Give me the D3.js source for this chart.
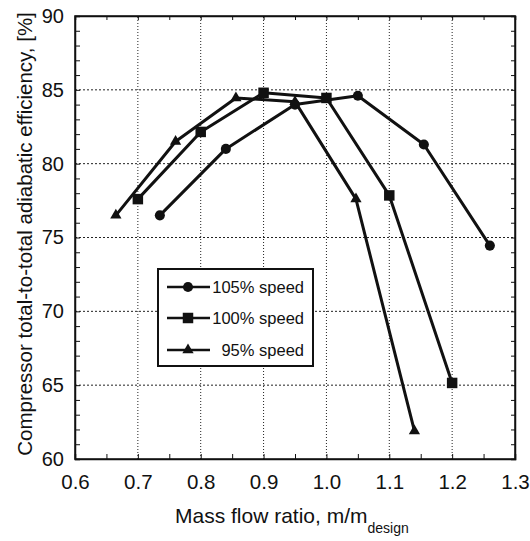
<!DOCTYPE html>
<html>
<head>
<meta charset="utf-8">
<script src="https://cdnjs.cloudflare.com/ajax/libs/d3/7.8.5/d3.min.js"></script>
<style>
  body { margin: 0; background: #fff; }
  text { font-family: "Liberation Sans", Arial, sans-serif; fill: #111; }
</style>
</head>
<body>
<div id="chart"></div>
<script>
var w = 530
var h = 541

// data
var speeds = ["105% speed", "100% speed", "95% speed"];
var markers = ["circle", "square", "triangle"];

var x105 = [0.735, 0.84, 0.95, 1.05, 1.155, 1.26];
var y105 = [76.5, 81.0, 84.0, 84.6, 81.3, 74.45];

var x100 = [0.70, 0.80, 0.90, 1.00, 1.10, 1.20];
var y100 = [77.6, 82.15, 84.8, 84.45, 77.85, 65.15];

var x95 = [0.665, 0.76, 0.856, 0.95, 1.047, 1.14];
var y95 = [76.5, 81.5, 84.45, 84.2, 77.6, 61.9];

var xTicks = [0.6, 0.7, 0.8, 0.9, 1.0, 1.1, 1.2, 1.3];
var yTicks = [60, 65, 70, 75, 80, 85, 90];

var margin = { left: 75, top: 16, right: 15, bottom: 82 };

var xScale = d3.scaleLinear().domain([0.6, 1.3]).range([margin.left, w - margin.right]);
var yScale = d3.scaleLinear().domain([60, 90]).range([h - margin.bottom, margin.top]);

var svg = d3.select("#chart").append("svg")
    .attr("width", w)
    .attr("height", h);

// dotted grid
svg.selectAll("line.gx").data(xTicks.slice(1, -1)).enter()
  .append("line")
    .attr("x1", function(d) { return xScale(d); })
    .attr("x2", function(d) { return xScale(d); })
    .attr("y1", yScale(60))
    .attr("y2", yScale(90))
    .attr("stroke", "#222")
    .attr("stroke-width", 1)
    .attr("stroke-dasharray", "1,2");

svg.selectAll("line.gy").data(yTicks.slice(1, -1)).enter()
  .append("line")
    .attr("y1", function(d) { return yScale(d); })
    .attr("y2", function(d) { return yScale(d); })
    .attr("x1", xScale(0.6))
    .attr("x2", xScale(1.3))
    .attr("stroke", "#222")
    .attr("stroke-width", 1)
    .attr("stroke-dasharray", "2,2");

// axes with inward ticks
var xAxis = svg.append("g")
    .attr("transform", "translate(0," + yScale(60) + ")")
    .call(d3.axisBottom(xScale).tickValues(d3.range(0.6, 1.3001, 0.05)).tickSize(-5).tickPadding(15)
      .tickFormat(function(d) { return Math.round(d * 100) % 10 === 0 ? d3.format(".1f")(d) : ""; }));
xAxis.selectAll("text").style("font-size", "20.5px");

var yAxis = svg.append("g")
    .attr("transform", "translate(" + xScale(0.6) + ",0)")
    .call(d3.axisLeft(yScale).tickValues(d3.range(60, 90.5, 1)).tickSize(-5).tickPadding(11)
      .tickFormat(function(d) { return d % 5 === 0 ? d : ""; }));
yAxis.selectAll("text").style("font-size", "20px");

svg.append("g")
    .attr("transform", "translate(" + xScale(1.3) + ",0)")
    .call(d3.axisRight(yScale).tickValues(d3.range(60, 90.5, 1)).tickSize(-4).tickFormat(""));

svg.append("g")
    .attr("transform", "translate(0," + yScale(90) + ")")
    .call(d3.axisTop(xScale).tickValues(d3.range(0.6, 1.3001, 0.05)).tickSize(-4).tickFormat(""));

svg.selectAll(".domain").attr("stroke", "#111").attr("stroke-width", 1.5);
svg.selectAll(".tick line").attr("stroke", "#111");

// plot frame
svg.append("rect")
    .attr("x", xScale(0.6))
    .attr("y", yScale(90))
    .attr("width", xScale(1.3) - xScale(0.6))
    .attr("height", yScale(60) - yScale(90))
    .attr("fill", "none")
    .attr("stroke", "#111")
    .attr("stroke-width", 1.5);

// series
var series = [
  { xs: x105, ys: y105, m: markers[0] },
  { xs: x100, ys: y100, m: markers[1] },
  { xs: x95, ys: y95, m: markers[2] }
];

var line = d3.line()
    .x(function(d) { return xScale(d[0]); })
    .y(function(d) { return yScale(d[1]); });

function symbolFor(m) {
  if (m === "circle") return d3.symbol().type(d3.symbolCircle).size(80);
  if (m === "square") return d3.symbol().type(d3.symbolSquare).size(110);
  return d3.symbol().type(d3.symbolTriangle).size(55);
}

series.forEach(function(s) {
  var pts = d3.zip(s.xs, s.ys);
  svg.append("path")
      .datum(pts)
      .attr("fill", "none")
      .attr("stroke", "#111")
      .attr("stroke-width", 3)
      .attr("stroke-linejoin", "round")
      .attr("d", line);
  svg.selectAll(null).data(pts).enter()
    .append("path")
      .attr("transform", function(d) { return "translate(" + xScale(d[0]) + "," + yScale(d[1]) + ")"; })
      .attr("d", symbolFor(s.m)())
      .attr("fill", "#111");
});

// legend
var legend = svg.append("g");
legend.append("rect")
    .attr("x", 158)
    .attr("y", 269)
    .attr("width", 155)
    .attr("height", 97)
    .attr("fill", "#fff")
    .attr("stroke", "#111")
    .attr("stroke-width", 2);

var legendY = [287, 318, 350];
speeds.forEach(function(s, i) {
  legend.append("line")
      .attr("x1", 167).attr("x2", 210)
      .attr("y1", legendY[i]).attr("y2", legendY[i])
      .attr("stroke", "#111")
      .attr("stroke-width", 2.5);
  legend.append("path")
      .attr("transform", "translate(188," + legendY[i] + ")")
      .attr("d", symbolFor(markers[i])())
      .attr("fill", "#111");
  legend.append("text")
      .attr("x", 304)
      .attr("y", legendY[i])
      .attr("dy", "0.35em")
      .attr("text-anchor", "end")
      .style("font-size", "16.5px")
      .text(s);
});

// axis titles
var xt = svg.append("text")
    .attr("x", 175)
    .attr("y", 523)
    .attr("text-anchor", "start")
    .style("font-size", "21px");
xt.append("tspan").text("Mass flow ratio, m/m");
xt.append("tspan").attr("dy", 10).style("font-size", "14px").text("design");

svg.append("text")
    .attr("transform", "translate(32," + 234 + ") rotate(-90)")
    .attr("text-anchor", "middle")
    .style("font-size", "20.5px")
    .text("Compressor total-to-total adiabatic efficiency, [%]");
</script>
</body>
</html>
